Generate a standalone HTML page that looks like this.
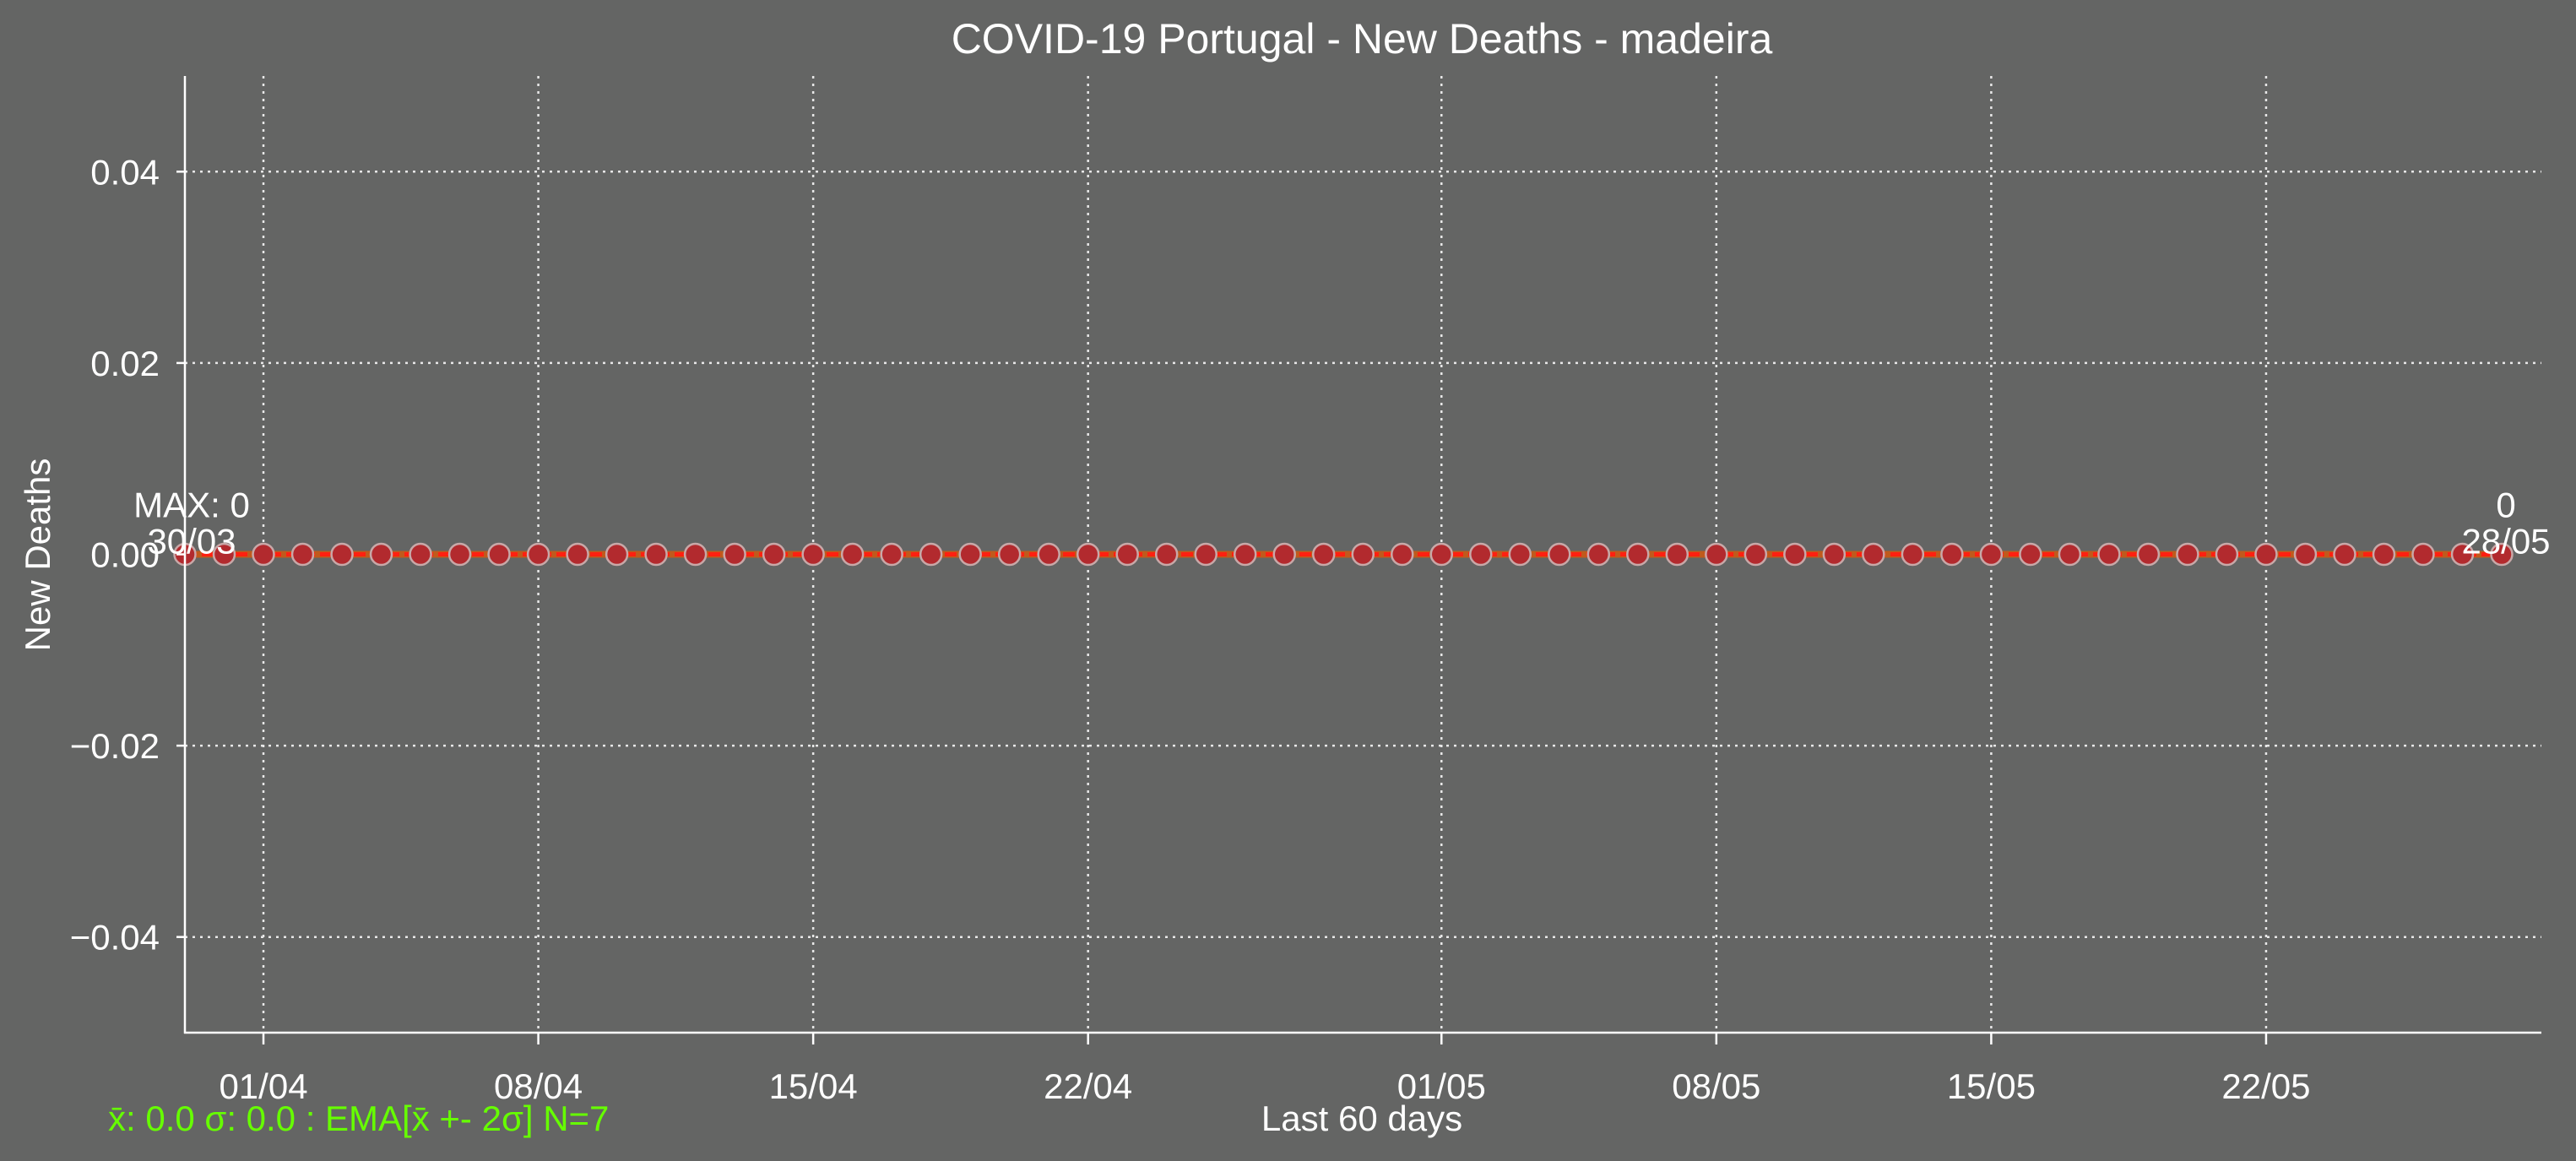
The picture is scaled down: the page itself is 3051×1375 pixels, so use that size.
<!DOCTYPE html>
<html><head><meta charset="utf-8"><style>
html,body{margin:0;padding:0;background:#646564;}
svg{display:block;font-family:"Liberation Sans",Arial,sans-serif;}
</style></head><body>
<svg id="chart" width="3051" height="1375" viewBox="0 0 3051 1375" xmlns="http://www.w3.org/2000/svg">
<rect x="0" y="0" width="3051" height="1375" fill="#646564"/>
<text x="1613" y="63" font-size="50" fill="#ffffff" text-anchor="middle">COVID-19 Portugal - New Deaths - madeira</text>
<text x="1613" y="1339" font-size="42" fill="#ffffff" text-anchor="middle">Last 60 days</text>
<text transform="translate(59,657) rotate(-90)" font-size="42" fill="#ffffff" text-anchor="middle">New Deaths</text>
<text x="128" y="1339" font-size="42" fill="#66ff00">x̄: 0.0 σ: 0.0 : EMA[x̄ +- 2σ] N=7</text>
<g id="grid"></g>
<g id="series"></g>
<g id="axes"></g>
</svg>
<script>
const dates = ["30/03","31/03","01/04","02/04","03/04","04/04","05/04","06/04","07/04","08/04","09/04","10/04","11/04","12/04","13/04","14/04","15/04","16/04","17/04","18/04","19/04","20/04","21/04","22/04","23/04","24/04","25/04","26/04","27/04","28/04","29/04","30/04","01/05","02/05","03/05","04/05","05/05","06/05","07/05","08/05","09/05","10/05","11/05","12/05","13/05","14/05","15/05","16/05","17/05","18/05","19/05","20/05","21/05","22/05","23/05","24/05","25/05","26/05","27/05","28/05"];
const deaths = [0,0,0,0,0,0,0,0,0,0,0,0,0,0,0,0,0,0,0,0,0,0,0,0,0,0,0,0,0,0,0,0,0,0,0,0,0,0,0,0,0,0,0,0,0,0,0,0,0,0,0,0,0,0,0,0,0,0,0,0];
const yTicks = [-0.04,-0.02,0.00,0.02,0.04];
const xTickLabels = ["01/04","08/04","15/04","22/04","01/05","08/05","15/05","22/05"];

const NS="http://www.w3.org/2000/svg";
const L=219,R=3010,T=90,B=1223;
const yMin=-0.05,yMax=0.05;
const step=(2963-219)/59;
const xs=i=>L+i*step;
const ys=v=>B-(v-yMin)/(yMax-yMin)*(B-T);
function mk(tag,attrs,parent){const e=document.createElementNS(NS,tag);for(const k in attrs)e.setAttribute(k,attrs[k]);parent.appendChild(e);return e;}
const grid=document.getElementById('grid'),series=document.getElementById('series'),axes=document.getElementById('axes');

yTicks.forEach(v=>{
  const y=ys(v);
  if(Math.abs(v)>1e-9){const g=mk('line',{x1:L,x2:R,y1:y,y2:y,stroke:'#e8e8e8','stroke-width':2.5,'stroke-dasharray':'3,6'},grid);
  
  }
  const t=mk('line',{x1:L-10,x2:L,y1:y,y2:y,stroke:'#fff','stroke-width':2.5},axes);
  
  
  const lab=mk('text',{x:L-30,y:y+15,'font-size':42,fill:'#fff','text-anchor':'end'},axes);
  lab.textContent=(v<0?'\u2212':'')+Math.abs(v).toFixed(2);
  
  
});
xTickLabels.forEach(d=>{
  const i=dates.indexOf(d);const x=xs(i);
  const g=mk('line',{x1:x,x2:x,y1:T,y2:B,stroke:'#e8e8e8','stroke-width':2.5,'stroke-dasharray':'3,6'},grid);
  
  
  const t=mk('line',{x1:x,x2:x,y1:B,y2:B+14,stroke:'#fff','stroke-width':2.5},axes);
  
  
  const lab=mk('text',{x:x,y:B+78,'font-size':42,fill:'#fff','text-anchor':'middle'},axes);
  lab.textContent=d;
  
  
});
const al=mk('line',{x1:L,x2:L,y1:T,y2:B+1,stroke:'#fff','stroke-width':2.5},axes);


const ab=mk('line',{x1:L-1,x2:R,y1:B,y2:B,stroke:'#fff','stroke-width':2.5},axes);



const pts=deaths.map((v,i)=>xs(i)+','+ys(v)).join(' ');
const ema=mk('polyline',{points:pts,fill:'none',stroke:'#c05a1c','stroke-width':8},series);


const ln=mk('polyline',{points:pts,fill:'none',stroke:'#ff2010','stroke-width':5,'stroke-dasharray':'14,6'},series);


deaths.forEach((v,i)=>{
  const c=mk('circle',{cx:xs(i),cy:ys(v),r:12.5,fill:'#b22a2e',stroke:'#c8a8a8','stroke-width':2.5},series);
  
  
});
const maxV=Math.max(...deaths),maxI=deaths.indexOf(maxV),lastI=deaths.length-1;
function ann(x,y,txt,name){const t=mk('text',{x:x,y:y,'font-size':42,fill:'#fff','text-anchor':'middle'},series);t.textContent=txt;
  
  }
ann(xs(maxI)+8,ys(maxV)-44,'MAX: '+maxV,'max-annotation-value');
ann(xs(maxI)+8,ys(maxV)-1,dates[maxI],'max-annotation-date');
ann(xs(lastI)+5,ys(deaths[lastI])-44,String(deaths[lastI]),'last-annotation-value');
ann(xs(lastI)+5,ys(deaths[lastI])-1,dates[lastI],'last-annotation-date');
</script>
</body></html>
